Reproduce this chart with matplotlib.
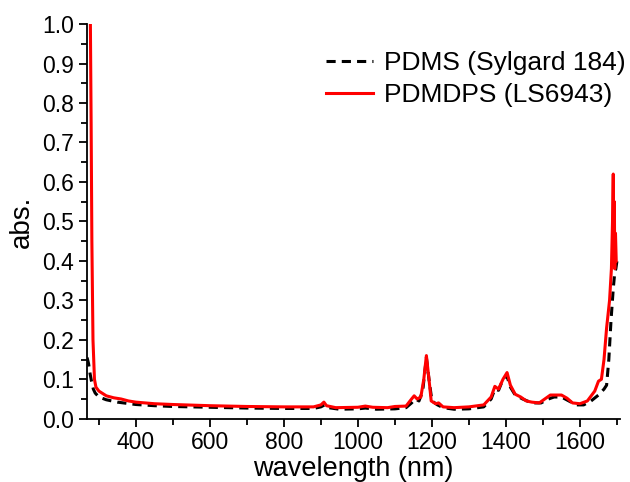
import matplotlib
matplotlib.use("Agg")
import matplotlib.pyplot as plt
from matplotlib.ticker import MultipleLocator

plt.rcParams['font.family'] = ['Liberation Sans', 'DejaVu Sans']

# PDMS (Sylgard 184)
pdms_x = [268, 272, 276, 280, 285, 290, 300, 320, 350, 400, 450, 500, 600, 700, 800, 880,
          900, 910, 920, 950, 1000, 1020, 1050, 1100, 1130, 1145, 1155, 1165, 1175, 1185,
          1192, 1200, 1215, 1230, 1260, 1300, 1340, 1360, 1370, 1380, 1390, 1402, 1412,
          1425, 1445, 1470, 1495, 1515, 1530, 1550, 1570, 1590, 1610, 1630, 1650, 1665,
          1672, 1678, 1684, 1690, 1694, 1697, 1700]
pdms_y = [0.155, 0.14, 0.115, 0.095, 0.075, 0.065, 0.055, 0.048, 0.042, 0.036, 0.033, 0.031,
          0.029, 0.027, 0.026, 0.026, 0.03, 0.035, 0.028, 0.024, 0.025, 0.027, 0.024, 0.025,
          0.028, 0.04, 0.05, 0.045, 0.07, 0.155, 0.1, 0.045, 0.035, 0.028, 0.024, 0.025,
          0.03, 0.05, 0.075, 0.072, 0.095, 0.11, 0.08, 0.06, 0.05, 0.04, 0.04, 0.05, 0.055,
          0.055, 0.045, 0.035, 0.035, 0.045, 0.06, 0.075, 0.085, 0.15, 0.25, 0.33, 0.37,
          0.38, 0.4]

# PDMDPS (LS6943)
pdmdps_x = [276, 277, 279, 281, 284, 288, 292, 300, 320, 340, 360, 380, 400, 450, 500,
            600, 700, 800, 880, 900, 908, 915, 940, 1000, 1020, 1040, 1080, 1100, 1130,
            1145, 1152, 1160, 1170, 1178, 1185, 1192, 1198, 1210, 1218, 1230, 1260, 1300,
            1340, 1360, 1370, 1380, 1392, 1403, 1412, 1425, 1440, 1455, 1470, 1490, 1505,
            1520, 1550, 1565, 1580, 1600, 1620, 1640, 1650, 1658, 1665, 1672, 1680, 1685,
            1688, 1690, 1691, 1693, 1694, 1696, 1698]
pdmdps_y = [1.05, 1.0, 0.75, 0.45, 0.2, 0.1, 0.08, 0.07, 0.058, 0.053, 0.05, 0.045,
            0.042, 0.038, 0.036, 0.033, 0.031, 0.03, 0.03, 0.035, 0.042, 0.033, 0.028,
            0.029, 0.032, 0.029, 0.028, 0.031, 0.032, 0.05, 0.058, 0.05, 0.055, 0.1, 0.16,
            0.1, 0.045, 0.038, 0.04, 0.03, 0.028, 0.03, 0.035, 0.055, 0.082, 0.075, 0.1,
            0.117, 0.085, 0.062, 0.055, 0.045, 0.042, 0.04, 0.05, 0.06, 0.06, 0.052, 0.04,
            0.038, 0.045, 0.07, 0.095, 0.1, 0.15, 0.23, 0.3, 0.38, 0.5, 0.62, 0.45, 0.55,
            0.38, 0.47, 0.4]

fig = plt.figure(figsize=(6.3, 4.82), dpi=100)
ax = fig.add_axes([0.1376, 0.1313, 0.8464, 0.8187])

ax.plot(pdms_x, pdms_y, color="black", linestyle=(0, (3, 2)), linewidth=2.2,
        label="PDMS (Sylgard 184)")
ax.plot(pdmdps_x, pdmdps_y, color="#ff0000", linewidth=2.2, label="PDMDPS (LS6943)")

ax.set_xlim(267, 1708)
ax.set_ylim(0, 1.0)
ax.xaxis.set_major_locator(MultipleLocator(200))
ax.xaxis.set_minor_locator(MultipleLocator(100))
ax.yaxis.set_major_locator(MultipleLocator(0.1))
ax.yaxis.set_minor_locator(MultipleLocator(0.05))
ax.set_xticks([400, 600, 800, 1000, 1200, 1400, 1600])
ax.tick_params(which="major", length=6, width=1.3, labelsize=16.5, direction="out", pad=3)
ax.tick_params(which="minor", length=4, width=1.3, direction="out")
for s in ["top", "right"]:
    ax.spines[s].set_visible(False)
for s in ["left", "bottom"]:
    ax.spines[s].set_linewidth(1.3)

ax.set_xlabel("wavelength (nm)", fontsize=19.5, labelpad=1)
ax.set_ylabel("abs.", fontsize=20, labelpad=5)

leg = ax.legend(loc="upper right", frameon=False, fontsize=19, handlelength=1.8,
                handletextpad=0.4, borderaxespad=0.2, labelspacing=0.3,
                bbox_to_anchor=(1.04, 0.972))

fig.savefig("out.png", dpi=100)
